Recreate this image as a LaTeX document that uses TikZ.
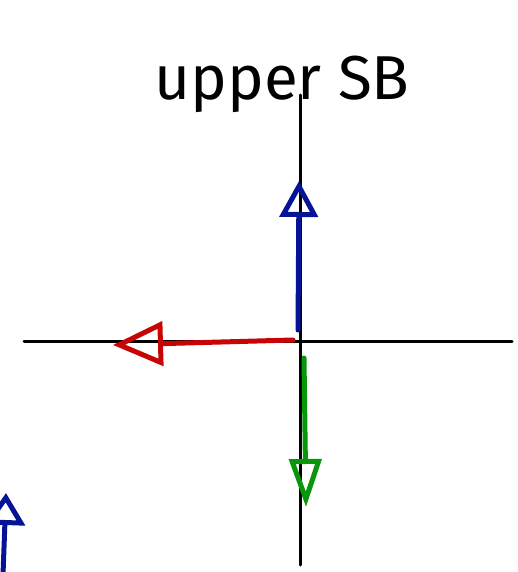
\documentclass[tikz,border=0pt]{standalone}
\usepackage{fontspec}
\setmainfont{Fira Sans}
\usetikzlibrary{arrows.meta}
\definecolor{penblue}{RGB}{5,20,150}
\definecolor{penred}{RGB}{200,5,5}
\definecolor{pengreen}{RGB}{10,150,10}
\tikzset{
  axis/.style={line width=3pt, black, line cap=round},
  vec/.style={line width=5pt, line cap=round, line join=round},
}
\begin{document}
\begin{tikzpicture}[x=1pt,y=-1pt]
\useasboundingbox (0,0) rectangle (518,572);
\clip (0,0) rectangle (518,572);
\node[font=\fontsize{62}{70}\selectfont, anchor=base, inner sep=0pt] (title) at (282,100) {upper SB};
\coordinate (vtop) at (300,95);
\coordinate (vbot) at (300,565);
\coordinate (hl) at (24,341);
\coordinate (hr) at (512,341);
\draw[axis] (vtop) -- (vbot);
\draw[axis] (hl) -- (hr);
\coordinate (o1) at (298,330);
\coordinate (bt) at (299,181);
\draw[vec, penblue, -{Triangle[open, length=36pt, width=38pt]}] (o1) -- (bt);
\coordinate (o2) at (293,340);
\coordinate (rt) at (113,345);
\draw[vec, penred, -{Triangle[open, length=50pt, width=44pt]}] (o2) -- (rt);
\coordinate (o3) at (304,358);
\coordinate (gt) at (306,507);
\draw[vec, pengreen, -{Triangle[open, length=48pt, width=32pt]}] (o3) -- (gt);
\coordinate (o4) at (3,575);
\coordinate (st) at (6,493);
\draw[vec, penblue, -{Triangle[open, length=32pt, width=40pt]}] (o4) -- (st);
\end{tikzpicture}
\end{document}
